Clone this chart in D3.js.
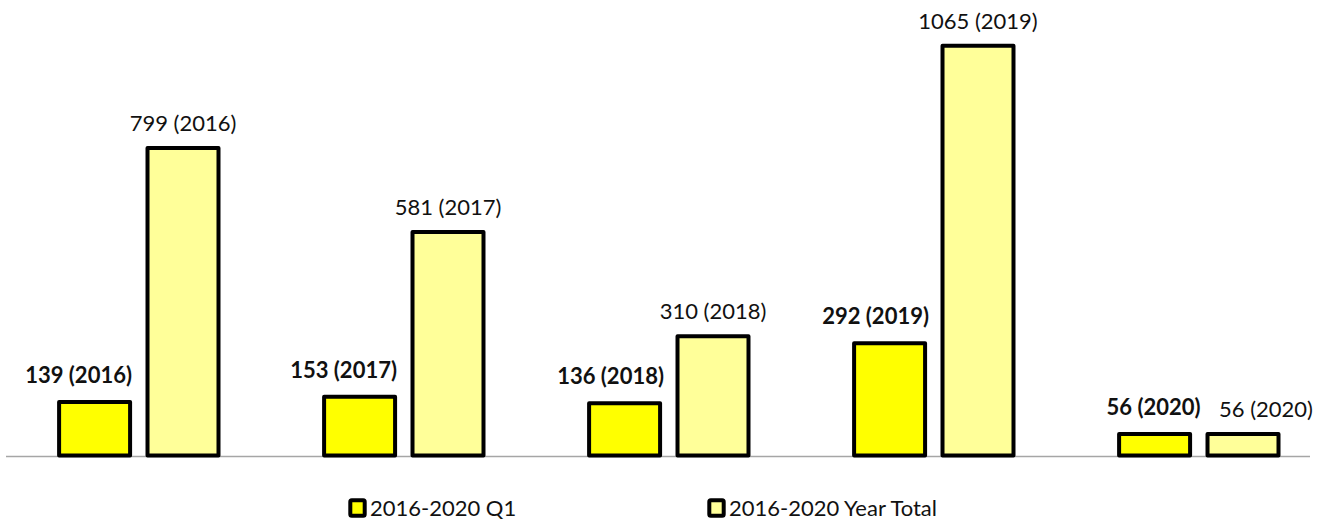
<!DOCTYPE html>
<html>
<head>
<meta charset="utf-8">
<script src="https://cdn.jsdelivr.net/npm/d3@7"></script>
<style>
  html, body { margin: 0; padding: 0; background: #fff; }
  svg { display: block; font-family: Lato, "Open Sans", sans-serif; }
</style>
</head>
<body>
<svg id="chart" width="1323" height="521"></svg>
<script>
// ---- data ----
const years = ["2016", "2017", "2018", "2019", "2020"];
const seriesNames = ["2016-2020 Q1", "2016-2020 Year Total"];
const q1Values = [139, 153, 136, 292, 56];
const totalValues = [799, 581, 310, 1065, 56];

// ---- layout / style (not data) ----
const colors = ["#FFFF00", "#FFFF99"];
const q1LabelDx = [-16, -16, -14, -14, -1];
const totalLabelDx = [0, 0, 0, 0, 23];

const svg = d3.select("#chart");

const x = d3.scaleBand().domain(years).range([6.3, 1331.3]).paddingInner(0).paddingOuter(0);
const xSub = d3.scaleBand().domain(seriesNames).range([52.8, 212.2]).paddingInner(0.197).paddingOuter(0);
const y = d3.scaleLinear().domain([0, 1065]).range([455.5, 45.7]);

// axis line
svg.append("line")
  .attr("x1", 6).attr("x2", 1310)
  .attr("y1", 456.5).attr("y2", 456.5)
  .attr("stroke", "#a6a6a6").attr("stroke-width", 1.3);

const rows = years.map((yr, i) => ({
  year: yr, i,
  vals: [
    { s: seriesNames[0], v: q1Values[i], k: 0 },
    { s: seriesNames[1], v: totalValues[i], k: 1 }
  ]
}));

const g = svg.selectAll("g.grp").data(rows).enter().append("g")
  .attr("class", "grp")
  .attr("transform", d => `translate(${x(d.year)},0)`);

g.selectAll("rect").data(d => d.vals).enter().append("rect")
  .attr("x", d => xSub(d.s))
  .attr("width", xSub.bandwidth())
  .attr("y", d => y(d.v))
  .attr("height", d => y(0) - y(d.v))
  .attr("fill", d => colors[d.k])
  .attr("stroke", "#000")
  .attr("stroke-width", 4)
  .attr("stroke-linejoin", "round");

g.selectAll("text.lbl").data(d => d.vals.map(v => Object.assign({ i: d.i, year: d.year }, v)))
  .enter().append("text")
  .attr("class", "lbl")
  .attr("x", d => xSub(d.s) + xSub.bandwidth() / 2 + (d.k === 0 ? q1LabelDx[d.i] : totalLabelDx[d.i]))
  .attr("y", d => y(d.v) - (d.k === 0 ? 19 : 17))
  .attr("text-anchor", "middle")
  .attr("font-size", 22)
  .attr("font-weight", d => d.k === 0 ? "bold" : "normal")
  .attr("fill", "#111")
  .text(d => `${d.v} (${d.year})`);

// legend
const legendX = [350.3, 709.3];
const leg = svg.selectAll("g.leg").data(seriesNames).enter().append("g")
  .attr("class", "leg")
  .attr("transform", (d, i) => `translate(${legendX[i]},0)`);
leg.append("rect")
  .attr("x", 0).attr("y", 500.3).attr("width", 14.4).attr("height", 15.4)
  .attr("rx", 1.5)
  .attr("fill", (d, i) => colors[i])
  .attr("stroke", "#000").attr("stroke-width", 4);
leg.append("text")
  .attr("x", 19.7).attr("y", 516)
  .attr("font-size", 22)
  .attr("fill", "#111")
  .text(d => d);
</script>
</body>
</html>
